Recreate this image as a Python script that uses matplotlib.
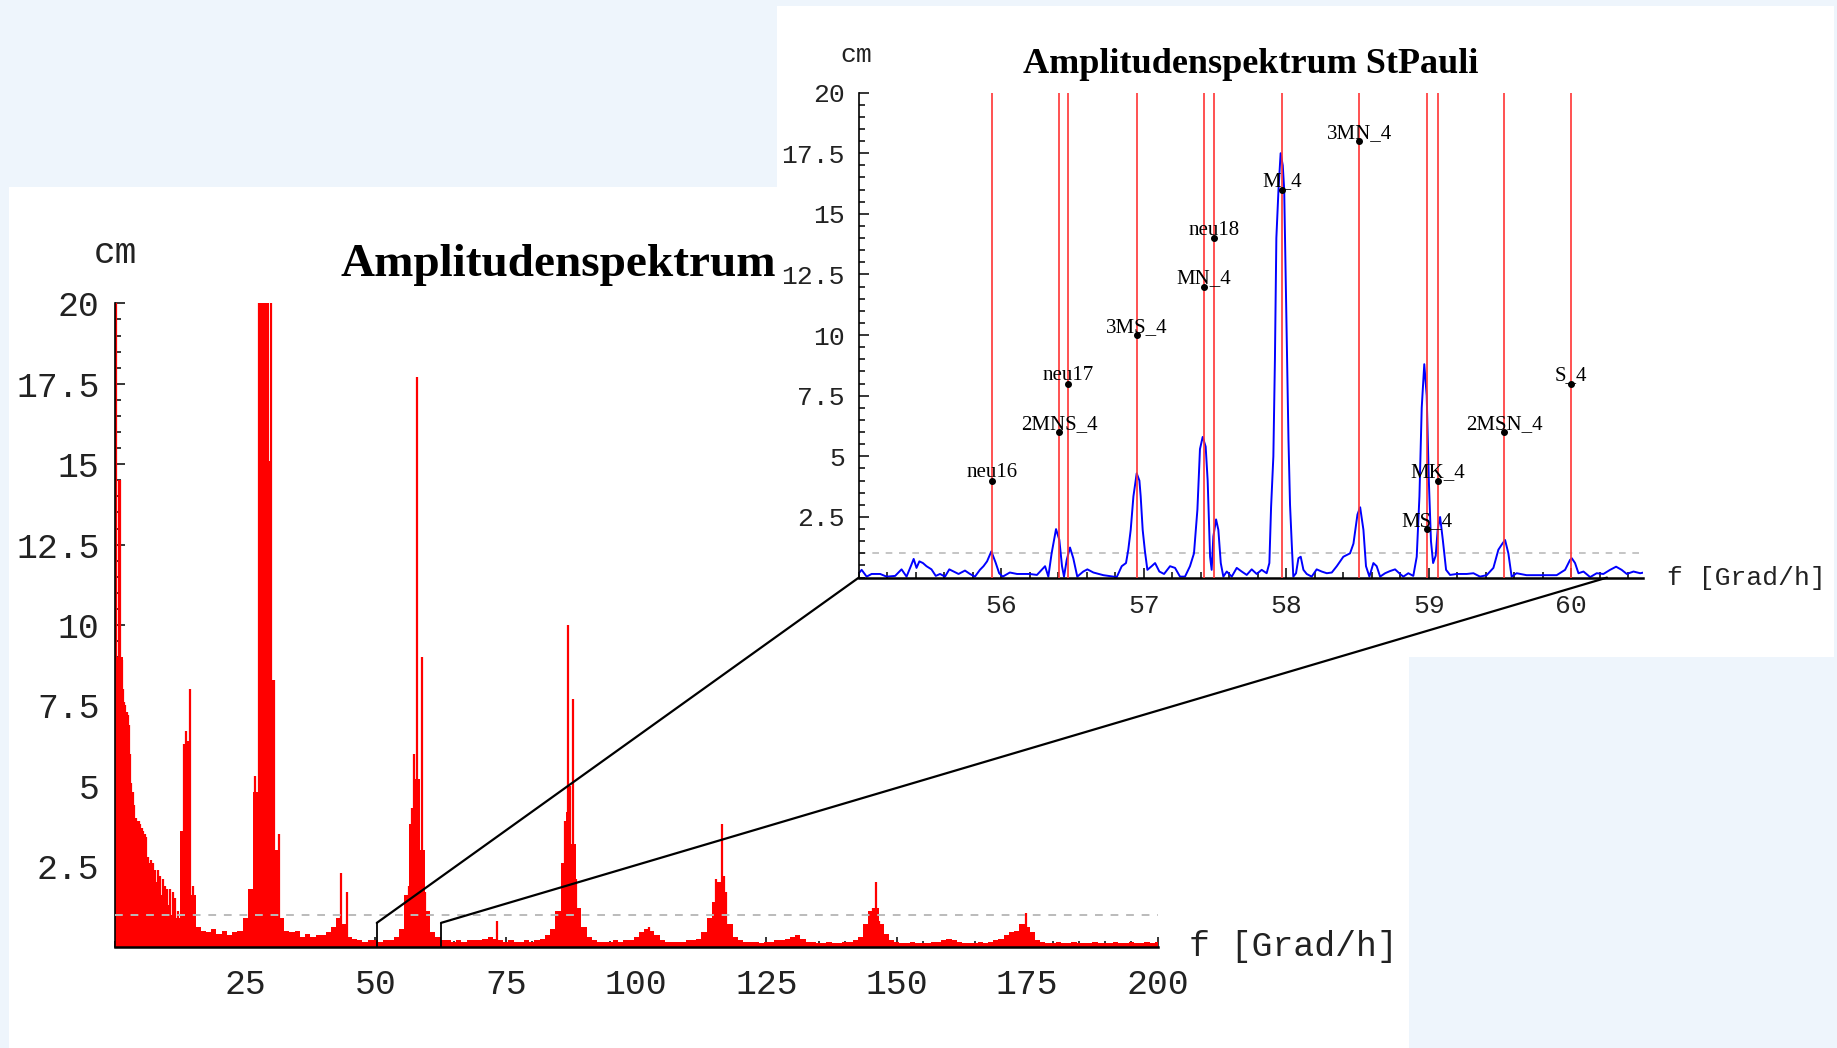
import numpy as np
import matplotlib
matplotlib.use('Agg')
import matplotlib.pyplot as plt
from matplotlib.patches import Rectangle, ConnectionPatch
from matplotlib.ticker import MultipleLocator, FuncFormatter

# Amplitudenspektrum, 1 Grad/h bins from 0 to 200 (background of the spectrum)
floor_amp = [
    20, 9.0, 6.5, 4.8, 3.8, 3.5, 2.8, 2.4, 2.0, 1.6,
    1.3, 1.0, 0.9, 3.6, 6.4, 1.6, 0.6, 0.5, 0.45, 0.55,
    0.4, 0.5, 0.35, 0.45, 0.5, 0.9, 1.8, 4.8, 20, 20,
    8.3, 3.0, 0.9, 0.5, 0.45, 0.5, 0.3, 0.4, 0.3, 0.35,
    0.35, 0.45, 0.6, 0.9, 0.7, 0.3, 0.25, 0.2, 0.15, 0.2,
    0.2, 0.15, 0.2, 0.2, 0.3, 0.55, 1.6, 3.8, 5.2, 3.0,
    1.1, 0.45, 0.3, 0.2, 0.2, 0.15, 0.2, 0.15, 0.2, 0.2,
    0.2, 0.25, 0.3, 0.25, 0.2, 0.15, 0.2, 0.15, 0.15, 0.2,
    0.15, 0.2, 0.25, 0.35, 0.55, 1.1, 2.6, 4.2, 3.2, 1.2,
    0.6, 0.3, 0.2, 0.15, 0.15, 0.15, 0.2, 0.15, 0.2, 0.2,
    0.3, 0.45, 0.55, 0.5, 0.35, 0.2, 0.15, 0.15, 0.15, 0.15,
    0.2, 0.2, 0.25, 0.45, 0.9, 1.4, 2.0, 1.6, 0.7, 0.3,
    0.2, 0.15, 0.15, 0.15, 0.1, 0.15, 0.15, 0.2, 0.2, 0.25,
    0.3, 0.35, 0.25, 0.15, 0.15, 0.1, 0.1, 0.15, 0.1, 0.1,
    0.15, 0.15, 0.2, 0.3, 0.7, 1.1, 1.2, 0.7, 0.4, 0.2,
    0.15, 0.1, 0.1, 0.15, 0.1, 0.1, 0.1, 0.15, 0.15, 0.2,
    0.25, 0.2, 0.15, 0.1, 0.1, 0.1, 0.15, 0.1, 0.15, 0.2,
    0.25, 0.35, 0.45, 0.5, 0.7, 0.6, 0.45, 0.2, 0.15, 0.1,
    0.1, 0.15, 0.1, 0.1, 0.15, 0.1, 0.1, 0.1, 0.15, 0.1,
    0.1, 0.1, 0.15, 0.1, 0.1, 0.15, 0.1, 0.1, 0.15, 0.1, 0.15,
]
floor_freq = np.arange(len(floor_amp))

# single narrow lines of the spectrum
spike_freq = [0.3, 0.8, 1.0, 1.3, 1.55, 1.8, 2.0, 2.3, 2.5, 2.7, 2.9, 3.2, 3.45, 3.7,
              4.0, 4.3, 4.55, 4.8, 5.2, 5.5, 5.8, 6.0, 6.3, 6.8, 7.0, 7.4, 7.8,
              8.2, 8.7, 9.2, 9.6, 10.0, 10.5, 11.2, 11.6, 12.2, 13.3, 13.7, 14.5, 15.0,
              26.0, 26.9, 27.7, 29.6, 30.0, 30.5, 31.4, 43.4, 44.6, 56.4, 56.95, 57.42,
              57.97, 58.51, 58.98, 59.53, 73.3, 86.4, 86.95, 87.4, 87.97, 88.5, 102.5,
              115.4, 116.4, 116.9, 117.3, 131.1, 145.5, 146.1, 146.6, 174.2, 174.8]
spike_amp = [20, 14.5, 14.5, 8.9, 8.0, 7.6, 7.5, 7.3, 7.2, 6.9, 6.0, 5.1, 4.8, 4.4,
             4.0, 3.9, 3.9, 3.8, 3.7, 3.6, 3.5, 3.4, 2.8, 2.6, 2.7, 2.6, 2.4,
             2.4, 2.2, 2.1, 1.9, 1.8, 1.8, 1.7, 1.5, 1.1, 6.3, 6.7, 8.0, 1.9,
             1.8, 5.3, 20, 15.1, 20, 8.3, 3.5, 2.3, 1.7, 1.9, 4.3, 6.0,
             17.7, 2.9, 9.0, 1.7, 0.8, 3.9, 10.0, 5.0, 7.7, 2.1, 0.6,
             2.1, 3.8, 2.2, 1.7, 0.35, 1.2, 2.0, 0.8, 0.6, 1.05]

# Ausschnitt 55 .. 60.5 Grad/h
zoom_freq = [55.0, 55.02, 55.055, 55.09, 55.15, 55.195, 55.255, 55.30, 55.335, 55.365,
             55.385, 55.405, 55.425, 55.45, 55.475, 55.51, 55.54, 55.57, 55.605, 55.635,
             55.665, 55.70, 55.745, 55.78, 55.815, 55.85, 55.875, 55.90, 55.93, 55.96,
             55.985, 56.01, 56.06, 56.11, 56.20, 56.25, 56.283, 56.307, 56.33, 56.353,
             56.384, 56.407, 56.426, 56.44, 56.459, 56.482, 56.505, 56.533, 56.575, 56.604,
             56.646, 56.716, 56.81, 56.845, 56.875, 56.891, 56.908, 56.927, 56.95, 56.969,
             56.978, 56.992, 57.008, 57.025, 57.055, 57.079, 57.109, 57.142, 57.184, 57.219,
             57.254, 57.289, 57.324, 57.352, 57.376, 57.394, 57.413, 57.434, 57.448, 57.465,
             57.476, 57.488, 57.507, 57.523, 57.54, 57.558, 57.582, 57.617, 57.652, 57.687,
             57.722, 57.757, 57.792, 57.827, 57.862, 57.881, 57.893, 57.909, 57.92, 57.93,
             57.945, 57.96, 57.975, 57.985, 57.995, 58.005, 58.015, 58.026, 58.038, 58.049,
             58.068, 58.085, 58.101, 58.12, 58.143, 58.178, 58.213, 58.248, 58.284, 58.319,
             58.354, 58.40, 58.447, 58.471, 58.499, 58.518, 58.541, 58.559, 58.583, 58.611,
             58.634, 58.658, 58.693, 58.728, 58.763, 58.798, 58.821, 58.856, 58.891, 58.915,
             58.934, 58.95, 58.968, 58.985, 59.0, 59.015, 59.03, 59.048, 59.062, 59.079,
             59.098, 59.121, 59.149, 59.196, 59.266, 59.313, 59.359, 59.406, 59.453, 59.488,
             59.516, 59.535, 59.558, 59.581, 59.616, 59.686, 59.757, 59.827, 59.897, 59.956,
             59.991, 60.003, 60.026, 60.05, 60.085, 60.132, 60.178, 60.225, 60.272, 60.314,
             60.353, 60.389, 60.436, 60.483, 60.5]
zoom_amp = [0.18, 0.32, 0.04, 0.15, 0.15, 0.04, 0.07, 0.34, 0.04, 0.47,
            0.77, 0.40, 0.67, 0.60, 0.47, 0.34, 0.07, 0.15, 0.04, 0.34,
            0.25, 0.15, 0.29, 0.15, 0.04, 0.32, 0.47, 0.67, 1.08, 0.62,
            0.18, 0.04, 0.21, 0.15, 0.15, 0.11, 0.32, 0.47, 0.04, 1.0,
            2.0, 1.56, 0.47, 0.04, 0.73, 1.24, 0.80, 0.04, 0.25, 0.34,
            0.21, 0.10, 0.02, 0.47, 0.6, 1.15, 1.97, 3.35, 4.3, 4.0,
            3.35, 1.97, 1.08, 0.32, 0.47, 0.6, 0.25, 0.15, 0.47, 0.4,
            0.04, 0.04, 0.47, 1.0, 2.8, 5.3, 5.8, 5.4, 4.0, 0.86,
            0.32, 1.7, 2.4, 1.97, 0.6, 0.04, 0.25, 0.04, 0.4, 0.25,
            0.11, 0.34, 0.15, 0.32, 0.18, 0.6, 2.9, 5.0, 9.0, 14.0,
            16.0, 17.5, 17.0, 16.0, 12.5, 9.2, 5.7, 3.0, 1.4, 0.04,
            0.18, 0.8, 0.86, 0.32, 0.15, 0.04, 0.34, 0.25, 0.18, 0.21,
            0.47, 0.86, 1.0, 1.4, 2.6, 2.9, 1.97, 0.47, 0.04, 0.6,
            0.47, 0.04, 0.18, 0.27, 0.34, 0.15, 0.04, 0.18, 0.07, 0.86,
            3.35, 7.0, 8.8, 7.5, 4.0, 1.5, 0.6, 0.9, 1.97, 2.5,
            1.56, 0.32, 0.11, 0.15, 0.15, 0.18, 0.04, 0.1, 0.4, 1.15,
            1.4, 1.55, 1.0, 0.04, 0.18, 0.1, 0.1, 0.1, 0.1, 0.32,
            0.73, 0.8, 0.6, 0.18, 0.25, 0.02, 0.18, 0.15, 0.32, 0.45,
            0.32, 0.15, 0.25, 0.18, 0.2]

# Partialtiden
const_names = ['neu16', '2MNS_4', 'neu17', '3MS_4', 'MN_4', 'neu18', 'M_4', '3MN_4',
               'MS_4', 'MK_4', '2MSN_4', 'S_4']
const_freq = [55.936, 56.408, 56.47, 56.952, 57.424, 57.49, 57.968, 58.513,
              58.984, 59.066, 59.528, 60.0]
label_height = [4, 6, 8, 10, 12, 14, 16, 18, 2, 4, 6, 8]

W, H = 1837, 1048
BG = '#EEF5FC'
TXT = '#222222'
MONO = 'Liberation Mono'
SERIF = 'Liberation Serif'

plt.rcParams['font.family'] = MONO


def box(x0, y0, x1, y1):
    # pixel box (y from top) -> figure fraction
    return [x0 / W, 1 - y1 / H, (x1 - x0) / W, (y1 - y0) / H]


def style_axis(ax, size, xpad, ypad):
    for s in ['top', 'right']:
        ax.spines[s].set_visible(False)
    ax.spines['left'].set_linewidth(1.2)
    ax.spines['bottom'].set_linewidth(1.8)
    ax.tick_params(which='both', direction='in', colors='black', labelcolor=TXT,
                   labelsize=size, width=1.1)
    ax.tick_params(which='major', length=7)
    ax.tick_params(which='minor', length=4)
    ax.tick_params(axis='x', pad=xpad)
    ax.tick_params(axis='y', pad=ypad)
    ax.set_yticks([2.5, 5, 7.5, 10, 12.5, 15, 17.5, 20])
    ax.yaxis.set_minor_locator(MultipleLocator(0.5))
    ax.yaxis.set_major_formatter(FuncFormatter(lambda v, _: f'{v:g}'))
    ax.set_ylim(0, 20)
    ax.patch.set_visible(False)


fig = plt.figure(figsize=(W / 100, H / 100), dpi=100, facecolor=BG)

# white panels
fig.add_artist(Rectangle((9 / W, 0), 1400 / W, (H - 187) / H, transform=fig.transFigure,
                         facecolor='white', edgecolor='none', zorder=0.2))
fig.add_artist(Rectangle((777 / W, 1 - 657 / H), (1834 - 777) / W, (657 - 6) / H,
                         transform=fig.transFigure, facecolor='white', edgecolor='none',
                         zorder=2))

# full spectrum
ax1 = fig.add_axes(box(114.8, 303.4, 1157.5, 946.7))
ax1.set_zorder(1)
ax1.fill_between(floor_freq, floor_amp, step='mid', color='red', lw=0, zorder=2)
ax1.vlines(spike_freq, 0, spike_amp, color='red', lw=1.6, zorder=2)
ax1.plot([0, 200], [1, 1], ls=(0, (4, 4)), color='#BBBBBB', lw=1.4, zorder=3)
ax1.vlines([50.25, 62.57], 0, 0.74, color='black', lw=1.3, zorder=4)
ax1.set_xlim(0, 200)
ax1.set_xticks([25, 50, 75, 100, 125, 150, 175, 200])
ax1.xaxis.set_minor_locator(MultipleLocator(5))
style_axis(ax1, 25, 15, 11)
# the rest of this title lies under the zoom panel, only this part is visible
ax1.text(0.2165, 1.042, 'Amplitudenspektrum', transform=ax1.transAxes, ha='left',
         va='baseline', family=SERIF, weight='bold', size=34, color='black')
ax1.text(0.001, 1.078, 'cm', transform=ax1.transAxes, ha='center', va='center',
         size=26, color=TXT)
ax1.text(1.030, 0, 'f [Grad/h]', transform=ax1.transAxes, ha='left', va='center',
         size=25, color=TXT)

# zoom 55 .. 60.5
ax2 = fig.add_axes(box(858.8, 92.6, 1642.6, 577.6))
ax2.set_zorder(3)
ax2.plot(zoom_freq, zoom_amp, color='blue', lw=1.4, zorder=2)
ax2.vlines(const_freq, 0, 20, color='#FF3333', lw=1.2, zorder=3)
ax2.plot([55, 60.5], [1, 1], ls=(0, (4, 4)), color='#BBBBBB', lw=1.2, zorder=1)
ax2.plot(const_freq, label_height, 'o', color='black', ms=4, zorder=5)
for name, f, h in zip(const_names, const_freq, label_height):
    ax2.annotate(name, (f, h), xytext=(0, 2.5), textcoords='offset points',
                 ha='center', va='baseline', family=SERIF, size=15, color='black',
                 zorder=6)
ax2.set_xlim(55, 60.5)
ax2.set_xticks([56, 57, 58, 59, 60])
ax2.xaxis.set_minor_locator(MultipleLocator(0.2))
style_axis(ax2, 19, 12, 10)
ax2.set_title('Amplitudenspektrum StPauli', family=SERIF, weight='bold', size=26,
              pad=14, color='black')
ax2.text(-0.003, 1.0775, 'cm', transform=ax2.transAxes, ha='center', va='center',
         size=19, color=TXT)
ax2.text(1.031, 0, 'f [Grad/h]', transform=ax2.transAxes, ha='left', va='center',
         size=19, color=TXT)

# zoom connectors
for xa, xb in [(50.25, 55.0), (62.57, 60.25)]:
    con = ConnectionPatch(xyA=(xa, 0.74), coordsA=ax1.transData,
                          xyB=(xb, 0), coordsB=ax2.transData,
                          color='black', lw=1.6, zorder=4)
    fig.add_artist(con)

fig.savefig('out.png', dpi=100, facecolor=BG)
